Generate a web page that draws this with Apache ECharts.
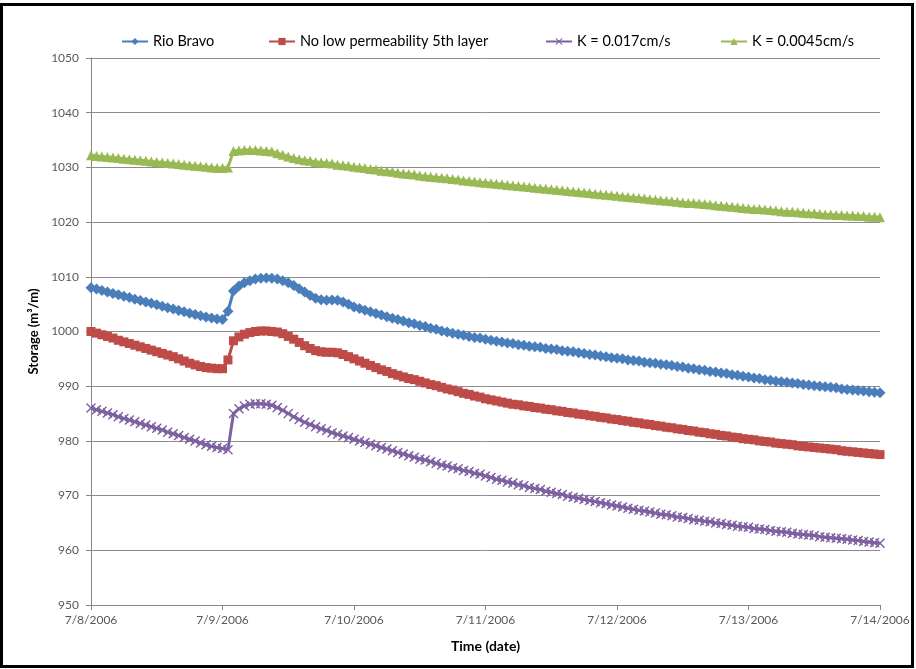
<!DOCTYPE html>
<html>
<head>
<meta charset="utf-8">
<script src="https://cdn.jsdelivr.net/npm/echarts@6/dist/echarts.min.js"></script>
<style>
html,body{margin:0;padding:0;background:#fff;}
#frame{position:absolute;left:0;top:3px;width:914px;height:665px;box-sizing:border-box;border:3px solid #000;}
#chart{position:absolute;left:0;top:0;width:916px;height:669px;}
</style>
</head>
<body>
<div id="chart"></div>
<div id="frame"></div>
<script>
// Hourly storage values from 7/8/2006 00:00 to 7/14/2006 00:00 (145 points each)
const dateLabels = ["7/8/2006","7/9/2006","7/10/2006","7/11/2006","7/12/2006","7/13/2006","7/14/2006"];
const seriesNames = ["Rio Bravo","No low permeability 5th layer","K = 0.017cm/s","K = 0.0045cm/s"];

const rioBravo = [
  1008.0,1007.75,1007.5,1007.2,1006.95,1006.7,1006.45,1006.2,1005.9,1005.65,1005.4,1005.15,1004.9,1004.6,1004.35,1004.1,1003.85,1003.6,1003.35,1003.1,1002.9,1002.65,1002.45,1002.3,1002.2,
  1003.7,1007.4,1008.3,1008.9,1009.3,1009.6,1009.75,1009.8,1009.75,1009.6,1009.3,1008.9,1008.4,1007.8,1007.2,1006.6,1006.1,1005.8,1005.7,1005.75,1005.7,1005.4,1005.0,1004.5,
  1004.2,1003.9,1003.6,1003.3,1003.0,1002.7,1002.4,1002.2,1001.9,1001.6,1001.4,1001.1,1000.9,1000.6,1000.4,1000.1,999.9,999.7,999.5,999.3,999.1,998.9,998.8,998.6,
  998.4,998.2,998.1,997.9,997.8,997.6,997.5,997.3,997.2,997.1,996.9,996.8,996.7,996.5,996.4,996.3,996.1,996.0,995.8,995.7,995.5,995.4,995.2,995.1,
  995.0,994.8,994.7,994.6,994.4,994.3,994.2,994.0,993.9,993.8,993.6,993.5,993.3,993.2,993.0,992.9,992.7,992.6,992.4,992.3,992.1,992.0,991.8,991.7,
  991.5,991.4,991.2,991.1,990.9,990.8,990.7,990.6,990.5,990.3,990.2,990.1,990.0,989.9,989.8,989.7,989.5,989.4,989.3,989.2,989.1,989.0,988.9,988.8
];
const noLowPerm = [
  1000.0,999.7,999.4,999.1,998.8,998.4,998.1,997.8,997.5,997.2,996.9,996.6,996.3,996.0,995.7,995.4,995.0,994.6,994.2,993.9,993.6,993.4,993.3,993.2,993.2,
  994.8,998.3,999.0,999.5,999.8,1000.0,1000.1,1000.1,1000.0,999.9,999.6,999.1,998.6,998.0,997.4,996.9,996.5,996.3,996.2,996.2,996.1,995.8,995.4,995.0,
  994.6,994.2,993.8,993.4,993.0,992.7,992.3,992.0,991.7,991.4,991.2,990.9,990.6,990.3,990.1,989.8,989.5,989.3,989.0,988.7,988.5,988.2,988.0,987.7,
  987.5,987.3,987.1,986.9,986.7,986.6,986.4,986.3,986.1,986.0,985.8,985.7,985.5,985.4,985.2,985.1,984.9,984.8,984.6,984.5,984.3,984.2,984.0,983.9,
  983.7,983.6,983.4,983.3,983.1,983.0,982.8,982.7,982.5,982.4,982.2,982.1,981.9,981.8,981.6,981.5,981.3,981.2,981.0,980.9,980.7,980.6,980.4,980.3,
  980.2,980.0,979.9,979.8,979.6,979.5,979.4,979.3,979.1,979.0,978.9,978.8,978.7,978.6,978.5,978.4,978.2,978.1,978.0,977.9,977.8,977.7,977.6,977.5
];
const k0017 = [
  986.0,985.7,985.4,985.1,984.8,984.4,984.1,983.8,983.5,983.2,982.9,982.6,982.3,982.0,981.6,981.3,981.0,980.6,980.3,980.0,979.6,979.3,979.0,978.8,978.6,
  978.4,985.0,985.9,986.4,986.7,986.8,986.8,986.7,986.5,986.1,985.6,985.0,984.4,983.9,983.4,983.0,982.6,982.2,981.9,981.5,981.2,980.9,980.6,980.3,
  980.0,979.7,979.4,979.1,978.8,978.5,978.2,977.9,977.6,977.3,977.0,976.7,976.5,976.2,975.9,975.6,975.4,975.1,974.9,974.6,974.4,974.1,973.9,973.6,
  973.3,973.0,972.8,972.5,972.3,972.0,971.8,971.5,971.3,971.1,970.8,970.6,970.4,970.2,969.9,969.7,969.5,969.3,969.1,968.9,968.7,968.5,968.3,968.1,
  967.9,967.7,967.5,967.3,967.2,967.0,966.8,966.6,966.5,966.3,966.1,966.0,965.8,965.6,965.5,965.3,965.2,965.0,964.9,964.7,964.6,964.4,964.3,964.2,
  964.0,963.9,963.8,963.6,963.5,963.4,963.3,963.1,963.0,962.9,962.8,962.7,962.5,962.4,962.3,962.2,962.1,962.0,961.9,961.8,961.6,961.5,961.4,961.3
];
const k00045 = [
  1032.2,1032.1,1032.0,1031.9,1031.8,1031.7,1031.6,1031.5,1031.4,1031.3,1031.2,1031.1,1031.0,1030.9,1030.8,1030.7,1030.6,1030.5,1030.4,1030.3,1030.2,1030.1,1030.0,1029.9,1029.9,
  1030.0,1033.0,1033.1,1033.2,1033.2,1033.2,1033.1,1033.0,1032.9,1032.6,1032.3,1032.0,1031.7,1031.5,1031.3,1031.2,1031.0,1030.9,1030.8,1030.7,1030.5,1030.4,1030.3,1030.1,
  1030.0,1029.9,1029.7,1029.6,1029.4,1029.3,1029.2,1029.0,1028.9,1028.8,1028.7,1028.5,1028.4,1028.3,1028.2,1028.1,1028.0,1027.9,1027.8,1027.6,1027.5,1027.4,1027.3,1027.2,
  1027.1,1027.0,1026.9,1026.8,1026.7,1026.6,1026.5,1026.4,1026.3,1026.2,1026.1,1026.0,1025.9,1025.8,1025.7,1025.6,1025.5,1025.4,1025.3,1025.2,1025.1,1025.0,1024.9,1024.8,
  1024.7,1024.6,1024.5,1024.4,1024.3,1024.2,1024.1,1024.0,1023.9,1023.8,1023.7,1023.6,1023.5,1023.5,1023.4,1023.3,1023.2,1023.1,1023.0,1022.9,1022.8,1022.7,1022.6,1022.5,
  1022.4,1022.4,1022.3,1022.2,1022.1,1022.0,1021.9,1021.9,1021.8,1021.7,1021.6,1021.6,1021.5,1021.4,1021.4,1021.3,1021.3,1021.2,1021.2,1021.1,1021.1,1021.0,1021.0,1020.9
];

const FONT = 'Lato, "Open Sans", sans-serif';
const xMark = 'path://M0,1L1,0L5,4L9,0L10,1L6,5L10,9L9,10L5,6L1,10L0,9L4,5Z';
const toPairs = arr => arr.map((v, i) => [i, v]);

function mkSeries(name, data, color, symbol, size) {
  return {
    name: name, type: 'line', data: toPairs(data),
    symbol: symbol, symbolSize: size, showSymbol: true, showAllSymbol: true,
    lineStyle: {color: color, width: 3},
    itemStyle: {color: color},
    emphasis: {disabled: true},
    z: 2
  };
}

function mkLegend(name, left) {
  return {
    data: [name], left: left, top: 34, padding: 0, itemWidth: 26, itemHeight: 9, itemGap: 4,
    textStyle: {fontFamily: FONT, fontSize: 14.5, color: '#000'},
    selectedMode: false
  };
}

const chart = echarts.init(document.getElementById('chart'), null, {renderer: 'canvas'});
chart.setOption({
  animation: false,
  backgroundColor: '#fff',
  grid: {left: 91, right: 36, top: 58, bottom: 64},
  legend: [
    mkLegend(seriesNames[0], 121),
    mkLegend(seriesNames[1], 268),
    mkLegend(seriesNames[2], 545),
    mkLegend(seriesNames[3], 720)
  ],
  xAxis: {
    type: 'value', min: 0, max: 144, interval: 24,
    name: 'Time (date)', nameLocation: 'middle', nameGap: 34,
    nameTextStyle: {fontFamily: FONT, fontSize: 14, fontWeight: 'bold', color: '#000'},
    axisLine: {lineStyle: {color: '#868686', width: 1}},
    axisTick: {show: true, length: 5, lineStyle: {color: '#868686'}},
    axisLabel: {fontFamily: FONT, fontSize: 12, color: '#595959', margin: 9,
      formatter: v => dateLabels[Math.round(v / 24)]},
    splitLine: {show: false}
  },
  yAxis: {
    type: 'value', min: 950, max: 1050, interval: 10,
    name: 'Storage (m\u00B3/m)', nameLocation: 'middle', nameGap: 48, nameRotate: 90,
    nameTextStyle: {fontFamily: FONT, fontSize: 13, fontWeight: 'bold', color: '#000'},
    axisLine: {show: true, lineStyle: {color: '#868686', width: 1}},
    axisTick: {show: true, length: 5, lineStyle: {color: '#868686'}},
    axisLabel: {fontFamily: FONT, fontSize: 12, color: '#595959', margin: 12,
      formatter: v => String(v)},
    splitLine: {show: true, lineStyle: {color: '#8c8c8c', width: 1}}
  },
  series: [
    mkSeries(seriesNames[0], rioBravo, '#4A7EBB', 'diamond', 11),
    mkSeries(seriesNames[1], noLowPerm, '#BE4B48', 'rect', 9),
    mkSeries(seriesNames[2], k0017, '#7D60A0', xMark, 10),
    mkSeries(seriesNames[3], k00045, '#98B954', 'triangle', 10)
  ]
});
</script>
</body>
</html>
